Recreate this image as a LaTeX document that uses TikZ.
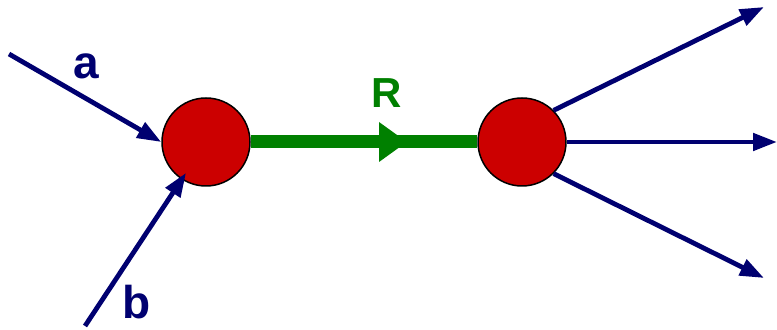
\documentclass[tikz,border=0pt]{standalone}
\usepackage{fontspec}
\setmainfont{Liberation Sans}
\usepackage{tikz}
\usetikzlibrary{arrows.meta}
\definecolor{navyline}{RGB}{0,0,112}
\definecolor{vertexred}{RGB}{204,0,0}
\definecolor{resgreen}{RGB}{0,128,0}
\tikzstyle{vertex} = [circle,draw=black,line width=0.75pt,fill=vertexred,minimum size=44pt,inner sep=0pt]
\tikzstyle{arrow} = [navyline,line width=2.4pt,-{Triangle[length=12pt,width=8.5pt]}]
\tikzstyle{line} = [resgreen,line width=6.5pt]
\tikzstyle{leg} = [navyline,font=\fontsize{23}{26}\selectfont\bfseries]

\begin{document}
\begin{tikzpicture}[x=0.5pt,y=-0.5pt,node distance=158pt]
\useasboundingbox (0,0) rectangle (777,330);
\node (vin) [vertex] at (206,142) {};
\node (vout) [vertex,right of=vin] {};
\coordinate (astart) at (9,54);
\coordinate (bstart) at (85,326);
\coordinate (linepoint) at (407,142);
\coordinate (outup) at (764,7);
\coordinate (outmid) at (777,142);
\coordinate (outdown) at (764,278);
\node (atext) [leg] at (86,66) {a};
\node (btext) [leg] at (137,302) {b};
\node (rtext) [resgreen,font=\fontsize{21}{24}\selectfont\bfseries] at (387,93) {R};

\draw [line] (vin.east) -- (vout.west);
\draw [line,-{Triangle[length=14pt,width=19pt]}] (vin.east) -- (linepoint);
\draw [arrow] (astart) -- (vin.west);
\draw [arrow,shorten >=-4pt] (bstart) -- (vin.237);
\draw [arrow] (vout.north east) -- (outup);
\draw [arrow] (vout.east) -- (outmid);
\draw [arrow] (vout.south east) -- (outdown);
\end{tikzpicture}
\end{document}
